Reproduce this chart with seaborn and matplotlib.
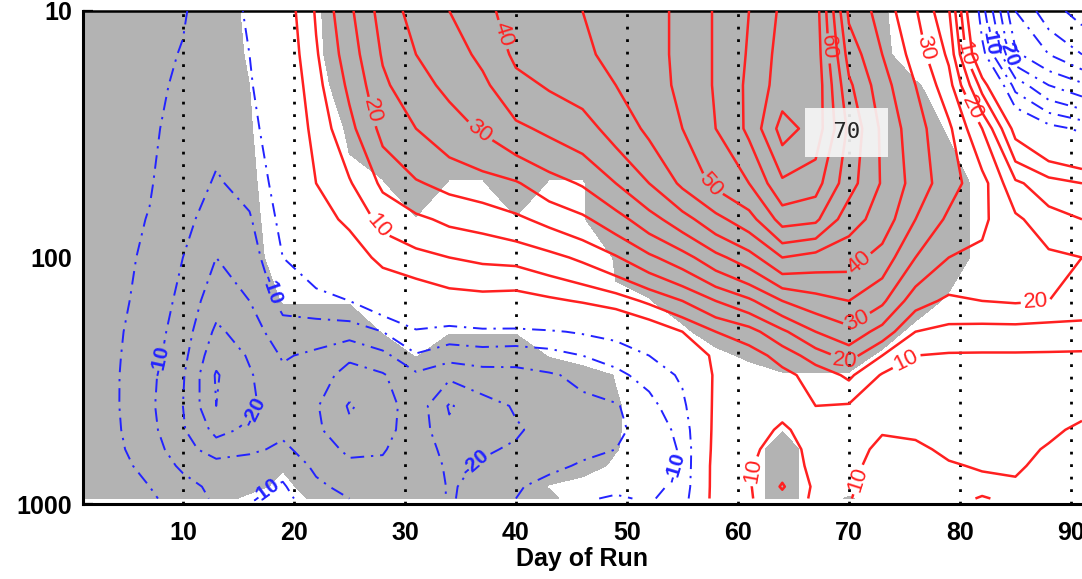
import matplotlib
matplotlib.use('Agg')
import matplotlib.pyplot as plt
import numpy as np
import seaborn as sns
from matplotlib.ticker import FixedLocator, FixedFormatter, LogLocator, NullFormatter

sns.set_theme(style='white')
plt.rcParams['font.family'] = ['Liberation Sans', 'DejaVu Sans']
plt.rcParams['lines.dashdot_pattern'] = [7, 3.5, 1.2, 3.5]
plt.rcParams['lines.dotted_pattern'] = [1, 3.5]

# --- grid ---
days = [1, 4, 7, 10, 13, 16, 19, 22, 25, 28, 31, 34, 37, 40, 43, 46,
        49, 52, 55, 58, 61, 64, 67, 70, 73, 76, 79, 82, 85, 88, 91]
pressure = [10, 15, 20, 30, 50, 70, 100, 150, 200, 250, 300, 400, 500, 600, 700, 850, 950]

# one vertical profile (10 hPa -> 950 hPa) per day
profiles = [
    [-2, -2, -2, -2.5, -3, -3, -3, -3.5, -3.5, -3.5, -3.5, -3.5, -3.5, -3.5, -3, -3, -3],              # 1
    [-3, -3, -3, -3.2, -3.5, -3.6, -3.8, -4, -4.3, -4.5, -4.6, -4.6, -4.4, -4.1, -3.7, -3.4, -3.2],    # 4
    [-3.8, -4, -4.2, -4.4, -4.7, -5.2, -5.8, -6.5, -7.5, -8, -8.7, -9, -8.5, -7.5, -6.3, -5, -4.5],     # 7
    [-4.7, -5.2, -5.6, -6.3, -7.5, -8.5, -10, -11.5, -12.5, -13.5, -14.5, -15, -14.5, -13, -11, -8, -6.5],  # 10
    [-7, -7.3, -7.7, -8.8, -10.5, -12.5, -15, -18, -21, -23.5, -25.5, -25, -21.5, -17.5, -13, -11.5, -11],  # 13
    [-4.5, -5, -5.5, -6.5, -8.5, -10.5, -12.5, -15, -17.5, -19.5, -20.5, -21, -19, -16, -12.5, -11, -10.5],  # 16
    [1.5, 0.5, -0.5, -1.5, -2.5, -3.5, -5, -8.5, -12, -14.5, -16, -17, -16, -14, -11.5, -9.5, -8.5],   # 19
    [10.5, 9.5, 8.5, 7, 5, 3, -1, -7, -12.5, -16, -17.5, -19.5, -19, -17.5, -16, -14, -13],           # 22
    [19, 17.5, 16, 13.5, 9.5, 6, 2, -5, -13, -19, -22, -25.5, -24, -21, -19, -16.5, -15],             # 25
    [27, 25.5, 24, 21.5, 16, 11.5, 6.5, -1, -10, -16.5, -20.5, -22.5, -22, -20.5, -19, -17.5, -16.5], # 28
    [32, 30, 28.5, 25, 19.5, 14, 8.5, 0.5, -5.5, -10.5, -16, -17, -17, -16.5, -16, -15.5, -16],       # 31
    [35, 33, 31, 28, 21.5, 16, 10, 2.5, -7, -13, -19, -25.5, -24, -22, -21, -20.5, -20.5],            # 34
    [38, 36, 34, 30.5, 23, 17, 11, 3, -6, -12.5, -17, -22, -21.5, -20.5, -19.5, -18.5, -18],          # 37
    [43, 41, 38.5, 34, 24.5, 19, 11.5, 2.5, -6, -13, -16.5, -19.5, -20.5, -19.5, -17.5, -15.5, -15],  # 40
    [44, 42.5, 40.5, 36, 28, 21.5, 13.5, 4, -5.5, -12, -15.5, -18, -18.5, -17.5, -16, -13.5, -11.5],  # 43
    [45, 44, 42, 38, 30.5, 24, 16, 5.5, -4.5, -10, -14, -16, -16.5, -16, -14.5, -12, -10.5],          # 46
    [47, 46.5, 45, 42, 35, 28, 19.5, 7.5, -3, -8.5, -11, -15.5, -16, -15, -13.5, -11, -9.5],          # 49
    [48.5, 48.5, 48, 46, 40, 33, 24, 11, 0.5, -5, -8.5, -11.5, -13, -12.5, -12, -11, -10.5],          # 52
    [51, 51, 51, 50, 46, 38, 28, 15, 5, -1, -4, -6.5, -8.5, -9.5, -9.5, -9, -8],                      # 55
    [55.5, 55.5, 55.5, 55, 51, 43.5, 33.5, 20, 10, 6.5, 6, 6.5, 7, 7.5, 8, 8, 8],                     # 58
    [60, 60.5, 61, 61, 55, 48, 38, 24, 13, 7.5, 6.5, 8, 8.5, 9, 9.5, 9.5, 9.5],                       # 61
    [66, 67, 67.5, 72, 64, 57, 45, 30, 19, 12, 8.5, 9, 10.5, 12, 13, 15.5, 13.5],                     # 64
    [67.5, 68, 68.5, 68, 62, 56, 43, 33, 25, 17.5, 12, 10, 8.5, 8.5, 8.5, 9, 9],                      # 67
    [44, 48, 51, 54, 52, 47, 42, 35, 28.5, 22, 16, 9.5, 7.5, 7.5, 8, 9, 9.5],                         # 70
    [38, 40, 42, 44, 44.5, 43, 38, 31, 23, 15, 9.5, 8, 9.5, 11.5, 13, 14, 15],                        # 73
    [30.5, 33, 35, 37, 38, 35, 30, 22, 15, 10, 8.5, 8, 9, 11, 12, 13, 14],                            # 76
    [20.5, 24, 27, 31, 32, 29, 25, 19, 13.5, 9.5, 8, 7.5, 8, 9, 10.5, 11.5, 11],                      # 79
    [-8, -3, 8, 20, 27, 26, 24, 20, 13, 9.5, 8, 7.5, 8, 8.5, 9.5, 11.5, 16],                          # 82
    [-30, -24, -12, 3, 16, 21, 22, 20.5, 13, 9.5, 8, 7.5, 8, 8.5, 9.5, 10.5, 12],                     # 85
    [-38, -30, -20, -3, 12, 17, 21, 20, 12.5, 9.5, 8, 8, 9, 10.5, 11, 11.5, 12],                      # 88
    [-42, -35, -24, -6, 10, 15, 20, 19.5, 12, 9.5, 8, 8.5, 11, 12, 12, 12, 11.5],                     # 91
]

# significance (1 = shaded), one row per pressure level
signif = [
    [1, 1, 1, 1, 1, .3, 0, .4, 1, 1, 1, 1, 1, 1, 1, 1, 1, 1, 1, 1, 1, 1, 1, 1, .6, 0, 0, 0, 0, 0, 0],
    [1, 1, 1, 1, 1, .4, 0, .35, 1, 1, 1, 1, 1, 1, 1, 1, 1, 1, 1, 1, 1, 1, 1, 1, .7, 0, 0, 0, 0, 0, 0],
    [1, 1, 1, 1, 1, .5, 0, .15, 1, 1, 1, 1, 1, 1, 1, 1, 1, 1, 1, 1, 1, 1, 1, 1, 1, .6, 0, 0, 0, 0, 0],
    [1, 1, 1, 1, 1, .55, 0, 0, .6, 1, 1, 1, 1, 1, 1, 1, 1, 1, 1, 1, 1, 1, 1, 1, 1, 1, .4, 0, 0, 0, 0],
    [1, 1, 1, 1, 1, .65, 0, 0, .35, .45, 1, .45, .45, 1, .45, .45, 1, 1, 1, 1, 1, 1, 1, 1, 1, 1, 1, .2, 0, 0, 0],
    [1, 1, 1, 1, 1, .75, 0, 0, 0, 0, .45, 0, 0, .45, 0, .45, 1, 1, 1, 1, 1, 1, 1, 1, 1, 1, 1, .2, 0, 0, 0],
    [1, 1, 1, 1, 1, .9, 0, 0, 0, 0, 0, 0, 0, 0, 0, 0, .55, 1, 1, 1, 1, 1, 1, 1, 1, 1, 1, .2, 0, 0, 0],
    [1, 1, 1, 1, 1, 1, .45, .45, .45, 0, 0, 0, 0, 0, 0, 0, .45, .45, 1, 1, 1, 1, 1, 1, 1, 1, .35, 0, 0, 0, 0],
    [1, 1, 1, 1, 1, 1, 1, 1, 1, .45, .45, .45, .45, .45, 0, 0, 0, 0, .3, 1, 1, 1, 1, 1, 1, .2, 0, 0, 0, 0, 0],
    [1, 1, 1, 1, 1, 1, 1, 1, 1, 1, .45, 1, 1, 1, .45, 0, 0, 0, 0, .2, .7, 1, 1, 1, .3, 0, 0, 0, 0, 0, 0],
    [1, 1, 1, 1, 1, 1, 1, 1, 1, 1, 1, 1, 1, 1, 1, 1, .45, 0, 0, 0, 0, .4, .4, .4, 0, 0, 0, 0, 0, 0, 0],
    [1, 1, 1, 1, 1, 1, 1, 1, 1, 1, 1, 1, 1, 1, 1, 1, .6, 0, 0, 0, 0, 0, 0, 0, 0, 0, 0, 0, 0, 0, 0],
    [1, 1, 1, 1, 1, 1, 1, 1, 1, 1, 1, 1, 1, 1, 1, 1, .6, 0, 0, 0, 0, .45, 0, 0, 0, 0, 0, 0, 0, 0, 0],
    [1, 1, 1, 1, 1, 1, 1, 1, 1, 1, 1, 1, 1, 1, 1, 1, .55, 0, 0, 0, 0, 1, 0, 0, 0, 0, 0, 0, 0, 0, 0],
    [1, 1, 1, 1, 1, 1, .6, 1, 1, 1, 1, 1, 1, 1, 1, 1, .3, 0, 0, 0, 0, 1, 0, 0, 0, 0, 0, 0, 0, 0, 0],
    [1, 1, 1, 1, 1, .9, .2, 1, 1, 1, 1, 1, 1, 1, .45, 0, 0, 0, 0, 0, 0, 1, 0, 0, 0, 0, 0, 0, 0, 0, 0],
    [1, 1, 1, 1, 1, .2, 0, .7, 1, 1, 1, 1, 1, 1, .7, 0, 0, 0, 0, 0, 0, 1, 0, .6, 0, 0, 0, 0, 0, 0, 0],
]

red_plain_levels = [5, 15, 25, 35, 45, 55, 65, 70]
red_labelled_levels = [10, 20, 30, 40, 50, 60]
blue_plain_levels = [-40, -35, -30, -25, -15, -5]
blue_labelled_levels = [-20, -10]
tick_days = [10, 20, 30, 40, 50, 60, 70, 80, 90]

# where the contour labels sit (day, hPa)
red_label_spots = [(27.5, 75), (26.2, 26), (37.5, 27.4), (38.6, 12.5), (57.0, 54),
                   (66.3, 14.2), (70.4, 99), (70.4, 171), (69.9, 247), (75.1, 258),
                   (76.1, 14.4), (80.9, 14.8), (81.1, 24.7), (86.8, 138),
                   (63.2, 747), (69.8, 768)]
blue_label_spots = [(82.7, 13.1), (85.1, 14.4), (17.2, 138), (8.6, 266),
                    (15.1, 387), (15.4, 700), (36.5, 700), (53.9, 700)]

field = np.array(profiles).T
mask = np.array(signif)

fig = plt.figure(figsize=(10.82, 5.79), dpi=100)
ax = fig.add_axes([83 / 1082, 1 - 504 / 579, 999 / 1082, 493 / 579])

# fix the scales first so that label placement uses the final layout
ax.set_yscale('log')
ax.set_ylim(1000, 10)
ax.set_xlim(1, 91)

ax.contourf(days, pressure, mask, levels=[0.5, 2], colors=['#b3b3b3'], zorder=1)

for d in tick_days:
    ax.axvline(d, color='black', linestyle=':', linewidth=2.0, zorder=2)

red_kw = dict(colors='#ff2020', linewidths=1.8, linestyles='solid', zorder=3)
blue_kw = dict(colors='#2323ff', linewidths=1.4, linestyles='dashdot', zorder=3)
ax.contour(days, pressure, field, levels=red_plain_levels, **red_kw)
cs_red = ax.contour(days, pressure, field, levels=red_labelled_levels, **red_kw)
ax.contour(days, pressure, field, levels=blue_plain_levels, **blue_kw)
cs_blue = ax.contour(days, pressure, field, levels=blue_labelled_levels, **blue_kw)
ax.set_ylim(1000, 10)
ax.set_xlim(1, 91)

ax.clabel(cs_red, manual=red_label_spots, fmt='%d', fontsize=16, inline_spacing=3)
blue_labels = ax.clabel(cs_blue, manual=blue_label_spots, fmt='%d', fontsize=15,
                        inline_spacing=3)
for t in blue_labels:
    t.set_fontweight('bold')

ax.text(69.8, 31, ' %d ' % max(red_plain_levels), family='DejaVu Sans Mono', fontsize=16,
        ha='center', va='center', zorder=5,
        bbox=dict(boxstyle='square,pad=0.65', fc='#f7f7f7', ec='none', alpha=0.9))

ax.yaxis.set_major_locator(FixedLocator([10, 100, 1000]))
ax.yaxis.set_major_formatter(FixedFormatter(['10', '100', '1000']))
ax.yaxis.set_minor_locator(LogLocator(base=10, subs=range(2, 10)))
ax.yaxis.set_minor_formatter(NullFormatter())
ax.set_xticks(tick_days)

ax.tick_params(axis='y', which='both', direction='in', length=7, width=1.6,
               pad=8, labelsize=18, colors='black', left=True)
ax.tick_params(axis='x', length=0, pad=12, labelsize=18, labelcolor='black')
for lab in ax.get_xticklabels() + ax.get_yticklabels():
    lab.set_fontweight('bold')

ax.set_xlabel('Day of Run', fontsize=18, fontweight='bold', labelpad=2, color='black')

for side in ['left', 'bottom']:
    ax.spines[side].set_linewidth(2.2)
    ax.spines[side].set_color('black')
ax.spines['top'].set_linewidth(1.8)
ax.spines['top'].set_color('black')
ax.spines['right'].set_visible(False)

fig.savefig('out.png', dpi=100)
